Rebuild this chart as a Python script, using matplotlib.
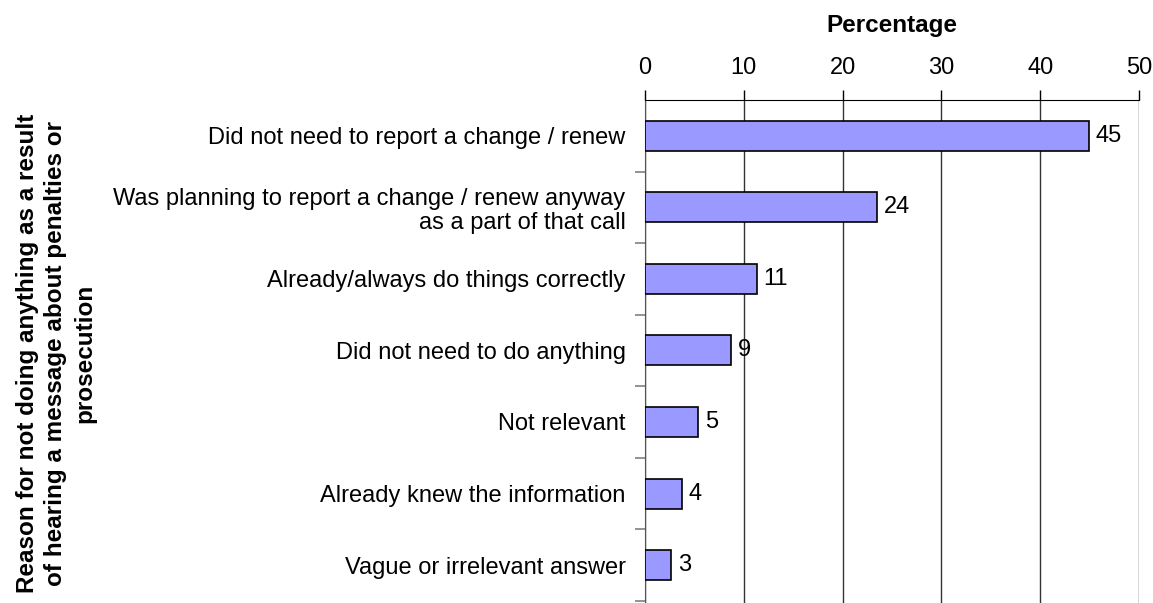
import numpy as np
import matplotlib
matplotlib.use('Agg')
import matplotlib.pyplot as plt

plt.rcParams['font.family'] = ['Liberation Sans', 'DejaVu Sans']

categories = [
    'Did not need to report a change / renew',
    'Was planning to report a change / renew anyway\nas a part of that call',
    'Already/always do things correctly',
    'Did not need to do anything',
    'Not relevant',
    'Already knew the information',
    'Vague or irrelevant answer',
]
values = [44.9, 23.5, 11.3, 8.7, 5.4, 3.7, 2.6]
value_labels = ['45', '24', '11', '9', '5', '4', '3']
x_ticks = [0, 10, 20, 30, 40, 50]

fig = plt.figure(figsize=(11.53, 6.03), dpi=100)
ax = fig.add_axes([645 / 1153, 0.0, (1139 - 645) / 1153, (603 - 100) / 603])

y = np.arange(len(categories))
ax.barh(y, values, height=0.42, color='#9999FF', edgecolor='black', linewidth=1.2, zorder=3)
for yi, v, lab in zip(y, values, value_labels):
    ax.text(v + 0.7, yi, lab, va='center', ha='left', fontsize=17, zorder=4)

ax.set_xlim(0, 50)
ax.set_ylim(6.5 + 0.03, -0.5)
ax.xaxis.tick_top()
ax.xaxis.set_label_position('top')
ax.set_xticks(x_ticks)
ax.tick_params(axis='x', labelsize=17, length=7, width=1, direction='out', pad=8, color='black')
ax.set_xlabel('Percentage', fontsize=17.5, fontweight='bold', labelpad=18)
ax.grid(axis='x', color='#333333', linewidth=1, zorder=0)

ax.set_yticks(y)
ax.set_yticklabels(categories, fontsize=17, ha='right', linespacing=1.15)
ax.set_yticks(np.arange(len(categories)) + 0.5, minor=True)
ax.tick_params(axis='y', which='major', length=0, pad=14)
ax.tick_params(axis='y', which='minor', length=7, color='#808080', width=1.2)

for s in ['right', 'bottom']:
    ax.spines[s].set_visible(False)
ax.spines['top'].set_color('black')
ax.spines['left'].set_color('#555555')

fig.text(56 / 1153, 1 - 353 / 603,
         'Reason for not doing anything as a result\nof hearing a message about penalties or\nprosecution',
         rotation=90, ha='center', va='center', fontsize=17.5, fontweight='bold',
         multialignment='center', linespacing=1.3)

fig.savefig('out.png', dpi=100)
